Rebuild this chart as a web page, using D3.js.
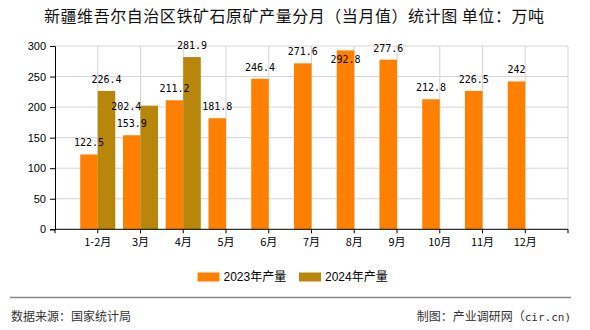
<!DOCTYPE html>
<html><head><meta charset="utf-8">
<script src="https://cdn.jsdelivr.net/npm/d3@7"></script>
<style>
html,body{margin:0;padding:0;background:#fff;}
svg{display:block;}
</style>
</head><body>
<svg id="c" width="590" height="330"></svg>
<script>
const categories = ["1-2月","3月","4月","5月","6月","7月","8月","9月","10月","11月","12月"];
const values2023 = [122.5,153.9,211.2,181.8,246.4,271.6,292.8,277.6,212.8,226.5,242];
const values2024 = [226.4,202.4,281.9,null,null,null,null,null,null,null,null];
const seriesNames = ["2023年产量","2024年产量"];
const yTicks = [0,50,100,150,200,250,300];
const titleText = "新疆维吾尔自治区铁矿石原矿产量分月（当月值）统计图 单位：万吨";
const sourceText = "数据来源：国家统计局";
const makerCJK = "制图：产业调研网（";
const makerLatin = "cir.cn)";

const colors = ["#FF8000","#B8860B"];
// label nudges (collision avoidance in the original)
const labelNudge = {"1|1":[-23,12],"0|6":[0,21]};

const svg = d3.select("#c");
const L = 55, R = 568, T = 46, B = 229.3;
const x = d3.scalePoint().domain(categories).range([L,R]).padding(1);
const y = d3.scaleLinear().domain([0,300]).range([B,T]);
const step = x.step();
const bw = step*0.41;

// title
svg.append("text").attr("x",294).attr("y",22).attr("text-anchor","middle")
  .attr("font-family","'Noto Sans CJK SC',sans-serif").attr("font-size",16)
  .attr("textLength",500).attr("lengthAdjust","spacing")
  .attr("fill","#111").text(titleText);

// grid
const g = svg.append("g");
g.selectAll("line.h").data(yTicks.filter(d=>d>0)).join("line")
  .attr("x1",L).attr("x2",R).attr("y1",d=>y(d)).attr("y2",d=>y(d))
  .attr("stroke","#d4d4d4").attr("stroke-width",1);
g.selectAll("line.v").data(categories.concat(["__end"])).join("line")
  .attr("x1",d=>d==="__end"?R:x(d)).attr("x2",d=>d==="__end"?R:x(d))
  .attr("y1",T).attr("y2",B).attr("stroke","#d4d4d4").attr("stroke-width",1);

// bars
const series = [values2023, values2024];
series.forEach((vals,si)=>{
  svg.append("g").selectAll("rect").data(categories.map((c,i)=>({c,v:vals[i]})).filter(d=>d.v!=null))
    .join("rect")
    .attr("x",d=>x(d.c) + (si===0?-bw:0))
    .attr("y",d=>y(d.v)).attr("width",bw).attr("height",d=>B-y(d.v))
    .attr("fill",colors[si]);
});

// y axis
const yAxis = d3.axisLeft(y).tickValues(yTicks).tickSize(5).tickPadding(4);
const ya = svg.append("g").attr("transform",`translate(${L},0)`).call(yAxis);
ya.select(".domain").attr("stroke","#000");
ya.selectAll(".tick line").attr("stroke","#000");
ya.selectAll("text").attr("font-family","'Liberation Sans',Arial,sans-serif").attr("font-size",11).attr("fill","#000");

// x axis
const xa = svg.append("g").attr("transform",`translate(0,${B})`);
xa.append("line").attr("x1",L).attr("x2",R).attr("y1",0).attr("y2",0).attr("stroke","#000");
xa.selectAll("line.t").data([L].concat(categories.map(c=>x(c))).concat([R])).join("line")
  .attr("x1",d=>d).attr("x2",d=>d).attr("y1",0).attr("y2",4).attr("stroke","#000");
xa.selectAll("text").data(categories).join("text")
  .attr("x",d=>x(d)).attr("y",17).attr("text-anchor","middle")
  .attr("font-family","'Noto Sans CJK SC',sans-serif").attr("font-size",11).attr("fill","#000")
  .text(d=>d);

// value labels
series.forEach((vals,si)=>{
  svg.append("g").selectAll("text").data(categories.map((c,i)=>({c,i,v:vals[i]})).filter(d=>d.v!=null))
    .join("text")
    .attr("x",d=>{const n=labelNudge[si+"|"+d.i]; return x(d.c)+(si===0?-bw/2:bw/2)+(n?n[0]:0);})
    .attr("y",d=>{const n=labelNudge[si+"|"+d.i]; return y(d.v)-8+(n?n[1]:0);})
    .attr("text-anchor","middle")
    .attr("font-family","'DejaVu Sans Mono',monospace").attr("font-size",10).attr("fill","#000")
    .text(d=>String(d.v));
});

// legend
const lg = svg.append("g");
const lx = [197.5, 299];
seriesNames.forEach((n,i)=>{
  lg.append("rect").attr("x",lx[i]).attr("y",272.5).attr("width",22).attr("height",9).attr("fill",colors[i]);
  lg.append("text").attr("x",lx[i]+26).attr("y",281).attr("font-family","'Liberation Sans','Noto Sans CJK SC',sans-serif")
    .attr("font-size",12).attr("fill","#000").text(n);
});

// footer
svg.append("line").attr("x1",10).attr("x2",571).attr("y1",297.5).attr("y2",297.5).attr("stroke","#888").attr("stroke-width",1.5);
svg.append("text").attr("x",11).attr("y",320.5).attr("font-family","'Noto Sans CJK SC',sans-serif").attr("font-size",12).attr("fill","#333").text(sourceText);
const mk = svg.append("text").attr("x",571).attr("y",320.5).attr("text-anchor","end").attr("font-family","'Noto Sans CJK SC',sans-serif").attr("font-size",12).attr("fill","#333");
mk.append("tspan").text(makerCJK);
mk.append("tspan").attr("font-family","'DejaVu Sans Mono',monospace").attr("font-size",11).text(makerLatin);
</script>
</body></html>
